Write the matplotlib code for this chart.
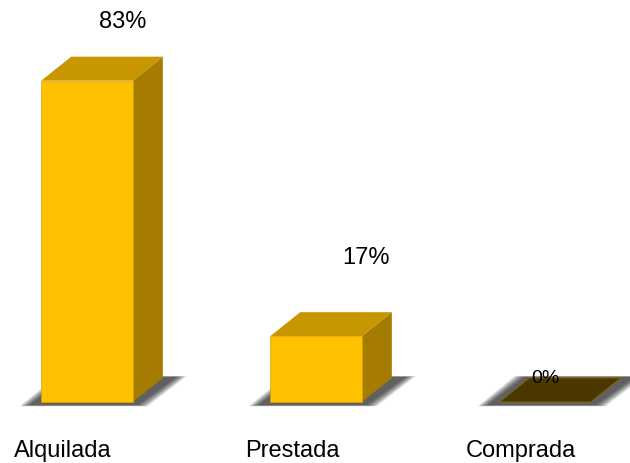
import matplotlib.pyplot as plt
from matplotlib.patches import Polygon
import numpy as np

categories = ['Alquilada', 'Prestada', 'Comprada']
values = [83, 17, 0]
labels = ['83%', '17%', '0%']

FRONT = '#FFC000'
TOP = '#C89600'
SIDE = '#A67C00'
ZERO = '#4A3800'


def draw_bar(ax, x, h, w=0.40, dx=0.131, dy=6.2):
    x0, x1 = x - w / 2, x + w / 2
    # soft shadow on the floor
    for k in range(10):
        grow = 0.005 * k
        ax.add_patch(Polygon([(x0 - 0.05 - grow, -0.8 - grow * 7), (x1 + 0.02 + grow, -0.8 - grow * 7),
                              (x1 + dx + 0.06 + grow, dy + 0.3 + grow * 4),
                              (x0 + dx - 0.02 - grow, dy + 0.3 + grow * 4)],
                             closed=True, facecolor='black', edgecolor='none', alpha=0.09, zorder=1))
    if h <= 0:
        ax.add_patch(Polygon([(x0, 0), (x1, 0), (x1 + dx, dy), (x0 + dx, dy)],
                             closed=True, facecolor=ZERO, edgecolor='#8a6a00', lw=0.6, zorder=3))
        return
    ax.add_patch(Polygon([(x1, 0), (x1 + dx, dy), (x1 + dx, h + dy), (x1, h)],
                         closed=True, facecolor=SIDE, edgecolor='none', zorder=3))
    ax.add_patch(Polygon([(x0, h), (x1, h), (x1 + dx, h + dy), (x0 + dx, h + dy)],
                         closed=True, facecolor=TOP, edgecolor='none', zorder=3))
    ax.add_patch(Polygon([(x0, 0), (x1, 0), (x1, h), (x0, h)],
                         closed=True, facecolor=FRONT, edgecolor='#D9A300', lw=0.5, zorder=4))


def main():
    plt.rcParams['font.family'] = ['Liberation Sans', 'DejaVu Sans']
    fig = plt.figure(figsize=(6.3, 4.64), dpi=100)
    ax = fig.add_axes([0, 0, 1, 1])
    ax.set_xlim(-0.380, 2.371)
    ax.set_ylim(-15.76, 104.1)
    ax.axis('off')

    # label offsets relative to the bar top (category units, percent units)
    label_dx = [0.155, 0.22, 0.0]
    label_dy = [15.4, 20.5, 6.4]

    xs = np.arange(len(categories))
    for x, v, lab in zip(xs, values, labels):
        draw_bar(ax, x, v)
        size = 17 if v > 0 else 14
        ax.text(x + label_dx[x], v + label_dy[x], lab, ha='center', va='center',
                fontsize=size, zorder=5)
        ax.text(x - 0.105, -12.3, categories[x], ha='center', va='center', fontsize=17)

    fig.savefig('out.png', dpi=100)


if __name__ == '__main__':
    main()
